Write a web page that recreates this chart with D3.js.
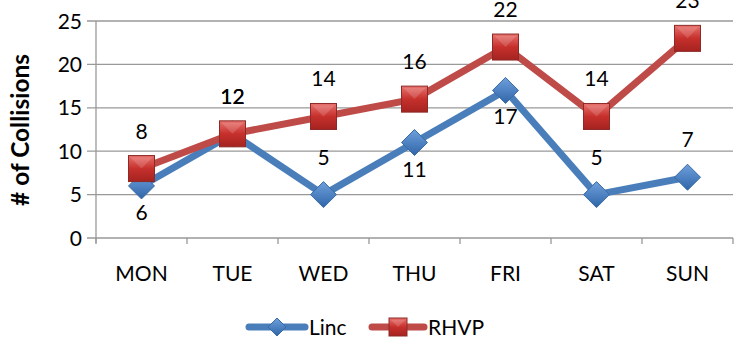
<!DOCTYPE html>
<html><head><meta charset="utf-8">
<script src="https://cdn.jsdelivr.net/npm/d3@7"></script>
<style>
body{margin:0;background:#fff;}
text{font-family:Lato,"Open Sans",sans-serif;}
</style></head>
<body><svg id="c" width="741" height="339"></svg>
<script>
const categories = ["MON","TUE","WED","THU","FRI","SAT","SUN"];
const lincValues = [6,12,5,11,17,5,7];
const rhvpValues = [8,12,14,16,22,14,23];
const lincLabelPos = ["below","above","above","below","below","above","above"];
const yTicks = [0,5,10,15,20,25];

(function(){
const svg = d3.select("#c");
const pl = 96, pr = 733, pt = 21, pb = 238;
const fs = 21;
const x = d3.scaleBand().domain(categories).range([pl, pr]);
const y = d3.scaleLinear().domain([0,25]).range([pb, pt]);

const defs = svg.append("defs");
const rg = defs.append("linearGradient").attr("id","rg").attr("x1",0).attr("y1",0).attr("x2",0).attr("y2",1);
rg.append("stop").attr("offset","0%").attr("stop-color","#e8726e");
rg.append("stop").attr("offset","50%").attr("stop-color","#c6302c");
rg.append("stop").attr("offset","100%").attr("stop-color","#a52320");
const bg = defs.append("linearGradient").attr("id","bg").attr("x1",0).attr("y1",0).attr("x2",0).attr("y2",1);
bg.append("stop").attr("offset","0%").attr("stop-color","#6fa0dc");
bg.append("stop").attr("offset","100%").attr("stop-color","#2f65a8");

svg.append("g").selectAll("line").data(yTicks).join("line")
  .attr("x1", pl-9).attr("x2", pr)
  .attr("y1", d=>y(d)).attr("y2", d=>y(d))
  .attr("stroke","#999").attr("stroke-width",1.3);
svg.append("line").attr("x1",pl).attr("x2",pl).attr("y1",pt).attr("y2",pb+5)
  .attr("stroke","#999").attr("stroke-width",1.3);
const xb = categories.map(c=>x(c)).concat([pr]);
svg.append("g").selectAll("line").data(xb).join("line")
  .attr("x1",d=>d).attr("x2",d=>d).attr("y1",pb).attr("y2",pb+6)
  .attr("stroke","#999").attr("stroke-width",1.3);

svg.append("g").selectAll("text").data(yTicks).join("text")
  .attr("x", pl-14).attr("y", d=>y(d)).attr("dy","0.36em")
  .attr("text-anchor","end").attr("font-size",fs).attr("fill","#000").text(d=>d);
svg.append("g").selectAll("text").data(categories).join("text")
  .attr("x", d=>x(d)+x.bandwidth()/2).attr("y", 281)
  .attr("text-anchor","middle").attr("font-size",fs).attr("fill","#000").text(d=>d);
const title = svg.append("text").attr("transform","translate(29,130) rotate(-90)")
  .attr("text-anchor","middle").attr("font-size",fs).attr("font-weight","bold").text("# of Collisions");
const tl = title.node().getComputedTextLength();
title.attr("font-size", fs*152/tl);

const cx = c => x(c)+x.bandwidth()/2;
const line = d3.line().x((d,i)=>cx(categories[i])).y(d=>y(d));

svg.append("path").datum(lincValues).attr("d",line).attr("fill","none")
  .attr("stroke","#4a7ebb").attr("stroke-width",7).attr("stroke-linejoin","round");
svg.append("path").datum(rhvpValues).attr("d",line).attr("fill","none")
  .attr("stroke","#be4b48").attr("stroke-width",7).attr("stroke-linejoin","round");

function diamond(g, px, py, s){
  g.append("path").attr("d",`M${px},${py-s}L${px+s},${py}L${px},${py+s}L${px-s},${py}Z`)
    .attr("fill","url(#bg)").attr("stroke","#3a6aa5").attr("stroke-width",1);
}
function square(g, px, py, s){
  g.append("rect").attr("x",px-s).attr("y",py-s).attr("width",2*s).attr("height",2*s)
    .attr("fill","url(#rg)").attr("stroke","#8c2a28").attr("stroke-width",1);
  g.append("path").attr("d",`M${px-s+2},${py-s+2}L${px},${py}L${px+s-2},${py-s+2}Z`)
    .attr("fill","#ffffff").attr("opacity",0.15);
}
const mg = svg.append("g");
lincValues.forEach((v,i)=>diamond(mg, cx(categories[i]), y(v), 13));
rhvpValues.forEach((v,i)=>square(mg, cx(categories[i]), y(v), 13));

const lg = svg.append("g").attr("font-size",fs).attr("text-anchor","middle");
rhvpValues.forEach((v,i)=>{
  lg.append("text").attr("x",cx(categories[i])).attr("y",y(v)-30).text(v);
});
lincValues.forEach((v,i)=>{
  const off = lincLabelPos[i]==="below" ? 34 : -30;
  lg.append("text").attr("x",cx(categories[i])).attr("y",y(v)+off).text(v);
});

const leg = svg.append("g");
leg.append("line").attr("x1",249).attr("x2",305).attr("y1",327).attr("y2",327)
  .attr("stroke","#4a7ebb").attr("stroke-width",7).attr("stroke-linecap","round");
diamond(leg, 277, 327, 9);
leg.append("text").attr("x",309).attr("y",335).attr("font-size",fs).text("Linc");
leg.append("line").attr("x1",372).attr("x2",424).attr("y1",327).attr("y2",327)
  .attr("stroke","#be4b48").attr("stroke-width",7).attr("stroke-linecap","round");
square(leg, 398, 327, 9);
leg.append("text").attr("x",428).attr("y",335).attr("font-size",fs).text("RHVP");
})();
</script></body></html>
